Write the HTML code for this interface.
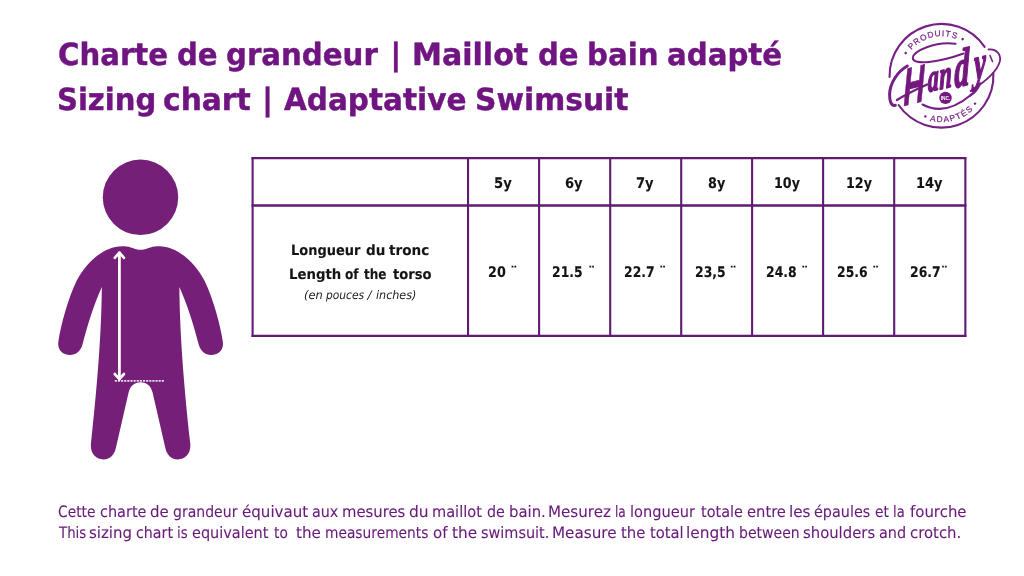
<!DOCTYPE html>
<html lang="fr">
<head>
<meta charset="utf-8">
<title>Charte de grandeur | Maillot de bain adapté</title>
<style>
html,body{margin:0;padding:0;background:#fff;}
body{width:1024px;height:576px;overflow:hidden;position:relative;font-family:"Liberation Sans",sans-serif;}
.page{position:absolute;left:0;top:0;width:1024px;height:576px;overflow:hidden;background:#fff;}
.t{position:absolute;left:0;margin:0;padding:0;white-space:pre;line-height:1;font-family:"Liberation Sans",sans-serif;text-rendering:geometricPrecision;}
.t span{position:absolute;left:0;top:0;transform-origin:0 0;}
svg{position:absolute;left:0;top:0;overflow:visible;}
.grid line{stroke:#601a72;stroke-width:2.1;}
.grid line.h{stroke-width:2.35;}
.sizes,.sizes thead,.sizes tbody,.sizes tr,.sizes th,.sizes td{display:contents;}
</style>
</head>
<body>
<div class="page">
<header>
<h1 class="t" style="top:41px;font-size:30.5px;color:#6f1480;font-weight:700;font-family:'DejaVu Sans','Liberation Sans',sans-serif;-webkit-text-stroke:0.42px #6f1480;"><span style="left:58.02px;transform:scaleX(0.957);">Charte </span><span style="left:177.41px;transform:scaleX(0.955);">de </span><span style="left:225.98px;transform:scaleX(0.958);">grandeur </span><span style="left:390.22px;">| </span><span style="left:412.01px;transform:scaleX(0.986);">Maillot </span><span style="left:538.4px;transform:scaleX(0.953);">de </span><span style="left:586.54px;transform:scaleX(0.958);">bain </span><span style="left:667.33px;transform:scaleX(0.959);">adapté</span></h1>
<h1 class="t" style="top:86px;font-size:30.5px;color:#6f1480;font-weight:700;font-family:'DejaVu Sans','Liberation Sans',sans-serif;-webkit-text-stroke:0.42px #6f1480;"><span style="left:57.02px;transform:scaleX(0.952);">Sizing </span><span style="left:162.83px;transform:scaleX(0.975);">chart </span><span style="left:261.92px;">| </span><span style="left:284.31px;transform:scaleX(0.967);">Adaptative </span><span style="left:475.13px;transform:scaleX(0.976);">Swimsuit</span></h1>
</header>
<svg class="figure" width="1024" height="576" viewBox="0 0 1024 576" aria-label="figure">
<circle cx="140.5" cy="197.3" r="37.7" fill="#751f78"/>
<path d="M 140.6 249.8 C 134.5 249.8, 131.0 246.2, 124.0 246.2 L 122.0 246.2 C 104.5 246.4, 87.5 260.5, 76.5 281.0 C 68.0 299.0, 61.0 324.0, 58.4 341.5 C 57.0 350.5, 63.5 354.9, 70.0 354.9 C 76.0 354.9, 80.5 351.5, 82.5 344.5 C 87.0 327.0, 94.0 304.0, 101.8 287.0 C 101.6 325.0, 98.5 375.0, 91.0 443.0 C 89.8 453.5, 96.0 459.4, 103.3 459.4 C 110.3 459.4, 114.8 454.5, 116.2 446.5 L 128.6 392.5 C 130.3 386.0, 134.5 382.3, 140.6 382.3 C 146.7 382.3, 150.9 386.0, 152.6 392.5 L 165.0 446.5 C 166.4 454.5, 170.9 459.4, 177.9 459.4 C 185.2 459.4, 191.4 453.5, 190.2 443.0 C 182.7 375.0, 179.6 325.0, 179.4 287.0 C 187.2 304.0, 194.2 327.0, 198.7 344.5 C 200.7 351.5, 205.2 354.9, 211.2 354.9 C 217.7 354.9, 224.2 350.5, 222.8 341.5 C 220.2 324.0, 213.2 299.0, 204.7 281.0 C 193.7 260.5, 176.7 246.4, 159.2 246.2 L 157.2 246.2 C 150.2 246.2, 146.7 249.8, 140.6 249.8 Z" fill="#751f78"/>
<g fill="none" stroke="#fff" stroke-linecap="round" stroke-linejoin="round">
<line x1="119.4" y1="252.8" x2="119.4" y2="379" stroke-width="2.8"/>
<polyline points="114.8,257.8 119.4,252.6 124,257.8" stroke-width="2.7"/>
<polyline points="114.8,374 119.4,379.2 124,374" stroke-width="2.7"/>
</g>
<line x1="114.8" y1="380.9" x2="164.8" y2="380.9" stroke="#fff" stroke-opacity="0.85" stroke-width="1.6" stroke-dasharray="2.1 1.03"/>
</svg>
<svg class="grid" width="1024" height="576" viewBox="0 0 1024 576">
<line x1="252.6" y1="157.00" x2="252.6" y2="337.00"/>
<line x1="468.05" y1="157.00" x2="468.05" y2="337.00"/>
<line x1="539.1" y1="157.00" x2="539.1" y2="337.00"/>
<line x1="610.2" y1="157.00" x2="610.2" y2="337.00"/>
<line x1="681.2" y1="157.00" x2="681.2" y2="337.00"/>
<line x1="752.1" y1="157.00" x2="752.1" y2="337.00"/>
<line x1="823.1" y1="157.00" x2="823.1" y2="337.00"/>
<line x1="894.2" y1="157.00" x2="894.2" y2="337.00"/>
<line x1="965.35" y1="157.00" x2="965.35" y2="337.00"/>
<line x1="251.55" y1="158.15" x2="966.40" y2="158.15" class="h"/>
<line x1="251.55" y1="205.5" x2="966.40" y2="205.5" class="h"/>
<line x1="251.55" y1="335.85" x2="966.40" y2="335.85" class="h"/>
</svg>
<table class="sizes">
<thead>
<tr>
<th></th>
<th scope="col"><div class="t" style="top:177px;font-size:14.6px;color:#141414;font-weight:700;font-family:'DejaVu Sans','Liberation Sans',sans-serif;-webkit-text-stroke:0.1px #141414;"><span style="left:494.29px;transform:scaleX(0.903);">5y</span></div></th>
<th scope="col"><div class="t" style="top:177px;font-size:14.6px;color:#141414;font-weight:700;font-family:'DejaVu Sans','Liberation Sans',sans-serif;-webkit-text-stroke:0.1px #141414;"><span style="left:565.43px;transform:scaleX(0.896);">6y</span></div></th>
<th scope="col"><div class="t" style="top:177px;font-size:14.6px;color:#141414;font-weight:700;font-family:'DejaVu Sans','Liberation Sans',sans-serif;-webkit-text-stroke:0.1px #141414;"><span style="left:636.31px;transform:scaleX(0.897);">7y</span></div></th>
<th scope="col"><div class="t" style="top:177px;font-size:14.6px;color:#141414;font-weight:700;font-family:'DejaVu Sans','Liberation Sans',sans-serif;-webkit-text-stroke:0.1px #141414;"><span style="left:707.94px;transform:scaleX(0.875);">8y</span></div></th>
<th scope="col"><div class="t" style="top:177px;font-size:14.6px;color:#141414;font-weight:700;font-family:'DejaVu Sans','Liberation Sans',sans-serif;-webkit-text-stroke:0.1px #141414;"><span style="left:774.4px;transform:scaleX(0.868);">10y</span></div></th>
<th scope="col"><div class="t" style="top:177px;font-size:14.6px;color:#141414;font-weight:700;font-family:'DejaVu Sans','Liberation Sans',sans-serif;-webkit-text-stroke:0.1px #141414;"><span style="left:845.7px;transform:scaleX(0.871);">12y</span></div></th>
<th scope="col"><div class="t" style="top:177px;font-size:14.6px;color:#141414;font-weight:700;font-family:'DejaVu Sans','Liberation Sans',sans-serif;-webkit-text-stroke:0.1px #141414;"><span style="left:916.47px;transform:scaleX(0.889);">14y</span></div></th>
</tr>
</thead>
<tbody>
<tr>
<th scope="row"><div class="t" style="top:244px;font-size:14.2px;color:#141414;font-weight:700;font-family:'DejaVu Sans','Liberation Sans',sans-serif;-webkit-text-stroke:0.1px #141414;"><span style="left:290.96px;transform:scaleX(0.915);">Longueur </span><span style="left:366.02px;transform:scaleX(0.957);">du </span><span style="left:389.49px;transform:scaleX(0.958);">tronc</span></div>
<div class="t" style="top:268px;font-size:14.2px;color:#141414;font-weight:700;font-family:'DejaVu Sans','Liberation Sans',sans-serif;-webkit-text-stroke:0.1px #141414;"><span style="left:288.54px;transform:scaleX(0.938);">Length </span><span style="left:344.77px;transform:scaleX(0.857);">of </span><span style="left:364.1px;transform:scaleX(0.85);">the </span><span style="left:393.0px;transform:scaleX(0.926);">torso</span></div>
<div class="t" style="top:290px;font-size:11.8px;color:#222;font-weight:400;font-family:'DejaVu Sans','Liberation Sans',sans-serif;font-style:italic;"><span style="left:304.33px;transform:scaleX(0.966);">(en </span><span style="left:325.71px;transform:scaleX(0.905);">pouces </span><span style="left:367.62px;">/ </span><span style="left:376.03px;transform:scaleX(0.944);">inches)</span></div></th>
<td><div class="t" style="top:266px;font-size:14.6px;color:#141414;font-weight:700;font-family:'DejaVu Sans','Liberation Sans',sans-serif;-webkit-text-stroke:0.1px #141414;"><span style="left:487.92px;transform:scaleX(0.875);">20 </span><span style="left:510.33px;">¨</span></div></td>
<td><div class="t" style="top:266px;font-size:14.6px;color:#141414;font-weight:700;font-family:'DejaVu Sans','Liberation Sans',sans-serif;-webkit-text-stroke:0.1px #141414;"><span style="left:552.3px;transform:scaleX(0.85);">21.5 </span><span style="left:588.02px;">¨</span></div></td>
<td><div class="t" style="top:266px;font-size:14.6px;color:#141414;font-weight:700;font-family:'DejaVu Sans','Liberation Sans',sans-serif;-webkit-text-stroke:0.1px #141414;"><span style="left:623.6px;transform:scaleX(0.85);">22.7 </span><span style="left:659.02px;">¨</span></div></td>
<td><div class="t" style="top:266px;font-size:14.6px;color:#141414;font-weight:700;font-family:'DejaVu Sans','Liberation Sans',sans-serif;-webkit-text-stroke:0.1px #141414;"><span style="left:694.9px;transform:scaleX(0.85);">23,5 </span><span style="left:729.62px;">¨</span></div></td>
<td><div class="t" style="top:266px;font-size:14.6px;color:#141414;font-weight:700;font-family:'DejaVu Sans','Liberation Sans',sans-serif;-webkit-text-stroke:0.1px #141414;"><span style="left:765.89px;transform:scaleX(0.85);">24.8 </span><span style="left:800.92px;">¨</span></div></td>
<td><div class="t" style="top:266px;font-size:14.6px;color:#141414;font-weight:700;font-family:'DejaVu Sans','Liberation Sans',sans-serif;-webkit-text-stroke:0.1px #141414;"><span style="left:836.89px;transform:scaleX(0.85);">25.6 </span><span style="left:871.92px;">¨</span></div></td>
<td><div class="t" style="top:266px;font-size:14.6px;color:#141414;font-weight:700;font-family:'DejaVu Sans','Liberation Sans',sans-serif;-webkit-text-stroke:0.1px #141414;"><span style="left:910.0px;transform:scaleX(0.85);">26.7</span><span style="left:940.72px;">¨</span></div></td>
</tr>
</tbody>
</table>
<svg class="logo" width="1024" height="576" viewBox="0 0 1024 576" role="img" aria-label="Produits Handy Inc. Adaptés">
<defs>
<path id="arcTop" d="M 901.7 76.0 A 39.8 39.8 0 0 1 981.3 76.0"/>
<path id="arcBot" d="M 895.2 76.0 A 46.3 46.3 0 0 0 987.8 76.0"/>
</defs>
<g fill="none" stroke="#762084" stroke-linecap="round">
<path d="M 984.6 46.9 A 51.95 51.95 0 0 0 889.56 77" stroke-width="2.1"/>
<path d="M 898.6 105 A 51.95 51.95 0 0 0 993.35 73.2" stroke-width="2.1"/>
<path d="M 922.5 104.5 Q 945 116.5 970.2 95.5" stroke-width="2"/>
<path d="M 955.5 43.8 C 935 41, 913.5 51, 912.8 57.8 C 912.5 66, 940 62, 963.5 53.5" stroke-width="2"/>
<path d="M 988.5 49.5 C 996 48.5, 1001.5 54, 999.8 61.5 C 997.5 70, 988 80, 970.5 91" stroke-width="1.8"/>
<path d="M 907.3 66 C 897.5 71.5, 890 83, 889.6 94 C 889.5 101, 891 106.3, 895.3 105.3" stroke-width="3"/>
<path d="M 897 100 C 906 94, 915 90, 927 84.5" stroke-width="2.4"/>
<path d="M 990 55.5 L 992.5 61.5" stroke-width="1.6"/>
<path d="M 980 83.5 C 977.5 89, 974.5 93, 970.2 95.5" stroke-width="2.6"/>
</g>
<g fill="#762084" stroke="#762084" stroke-width="0.2" font-family="'Liberation Sans',sans-serif">
<text transform="rotate(-13.2 941.5 76.0)" font-size="8.4" letter-spacing="0.85" text-anchor="middle"><textPath href="#arcTop" startOffset="50%">• PRODUITS •</textPath></text>
<text transform="rotate(-15.2 941.5 76.0)" font-size="8.4" letter-spacing="1.2" text-anchor="middle"><textPath href="#arcBot" startOffset="50%">• ADAPTÉS •</textPath></text>
</g>
<text transform="matrix(0.6986 -0.1742 0.0129 1.2541 0 0)" font-weight="700" font-style="italic" fill="#74187f" stroke="#74187f" stroke-width="1.1" stroke-linejoin="round"><tspan x="1288.6" y="263.5" font-size="42" font-family="'Liberation Sans',sans-serif" stroke-width="0.6">H</tspan><tspan x="1323.6" y="257.2" font-size="31" font-family="'Liberation Serif',serif" stroke-width="1.4">a</tspan><tspan x="1340.1" y="257.5" font-size="32" font-family="'Liberation Serif',serif" stroke-width="1.4">n</tspan><tspan x="1361.5" y="259.3" font-size="43" font-family="'Liberation Serif',serif" stroke-width="1.4">d</tspan><tspan x="1389.9" y="257.2" font-size="38" font-family="'Liberation Serif',serif" stroke-width="1.4">y</tspan></text>
<circle cx="945.5" cy="97.9" r="6.2" fill="#74187f"/>
<text x="945.6" y="99.6" text-anchor="middle" font-family="'Liberation Sans',sans-serif" font-weight="700" font-size="4.8" fill="#fff">INC.</text>
</svg>

<footer>
<p class="t" style="top:504px;font-size:15.7px;color:#681a7a;font-weight:400;font-family:'DejaVu Sans','Liberation Sans',sans-serif;-webkit-text-stroke:0.1px #681a7a;"><span style="left:58.25px;transform:scaleX(0.88);">Cette </span><span style="left:99.72px;transform:scaleX(0.922);">charte </span><span style="left:150.48px;transform:scaleX(0.956);">de </span><span style="left:173.04px;transform:scaleX(0.895);">grandeur </span><span style="left:241.88px;transform:scaleX(0.961);">équivaut </span><span style="left:311.61px;transform:scaleX(0.913);">aux </span><span style="left:341.61px;transform:scaleX(0.945);">mesures </span><span style="left:409.36px;transform:scaleX(0.986);">du </span><span style="left:432.35px;transform:scaleX(0.928);">maillot </span><span style="left:486.72px;transform:scaleX(0.911);">de </span><span style="left:509.42px;transform:scaleX(0.947);">bain. </span><span style="left:547.95px;transform:scaleX(0.963);">Mesurez </span><span style="left:615.44px;transform:scaleX(0.773);">la </span><span style="left:630.0px;transform:scaleX(0.93);">longueur </span><span style="left:700.78px;transform:scaleX(0.921);">totale </span><span style="left:746.79px;transform:scaleX(0.938);">entre </span><span style="left:788.94px;transform:scaleX(0.97);">les </span><span style="left:814.3px;transform:scaleX(0.917);">épaules </span><span style="left:875.24px;transform:scaleX(0.875);">et </span><span style="left:892.94px;transform:scaleX(0.836);">la </span><span style="left:909.67px;transform:scaleX(0.952);">fourche</span></p>
<p class="t" style="top:525px;font-size:15.7px;color:#681a7a;font-weight:400;font-family:'DejaVu Sans','Liberation Sans',sans-serif;-webkit-text-stroke:0.1px #681a7a;"><span style="left:59.11px;transform:scaleX(0.848);">This </span><span style="left:89.08px;transform:scaleX(0.956);">sizing </span><span style="left:135.52px;transform:scaleX(0.908);">chart </span><span style="left:177.13px;transform:scaleX(0.849);">is </span><span style="left:192.32px;transform:scaleX(0.922);">equivalent </span><span style="left:273.58px;transform:scaleX(0.875);">to  </span><span style="left:296.15px;transform:scaleX(0.966);">the </span><span style="left:325.28px;transform:scaleX(0.879);">measurements </span><span style="left:432.78px;transform:scaleX(0.956);">of </span><span style="left:452.05px;transform:scaleX(0.974);">the </span><span style="left:481.3px;transform:scaleX(0.92);">swimsuit. </span><span style="left:551.95px;transform:scaleX(0.969);">Measure </span><span style="left:621.07px;transform:scaleX(0.949);">the </span><span style="left:649.87px;transform:scaleX(0.94);">total </span><span style="left:686.13px;transform:scaleX(0.978);">length </span><span style="left:738.58px;transform:scaleX(0.895);">between </span><span style="left:802.58px;transform:scaleX(0.946);">shoulders </span><span style="left:879.21px;transform:scaleX(0.92);">and </span><span style="left:910.38px;transform:scaleX(0.949);">crotch.</span></p>
</footer>
</div>
</body>
</html>
